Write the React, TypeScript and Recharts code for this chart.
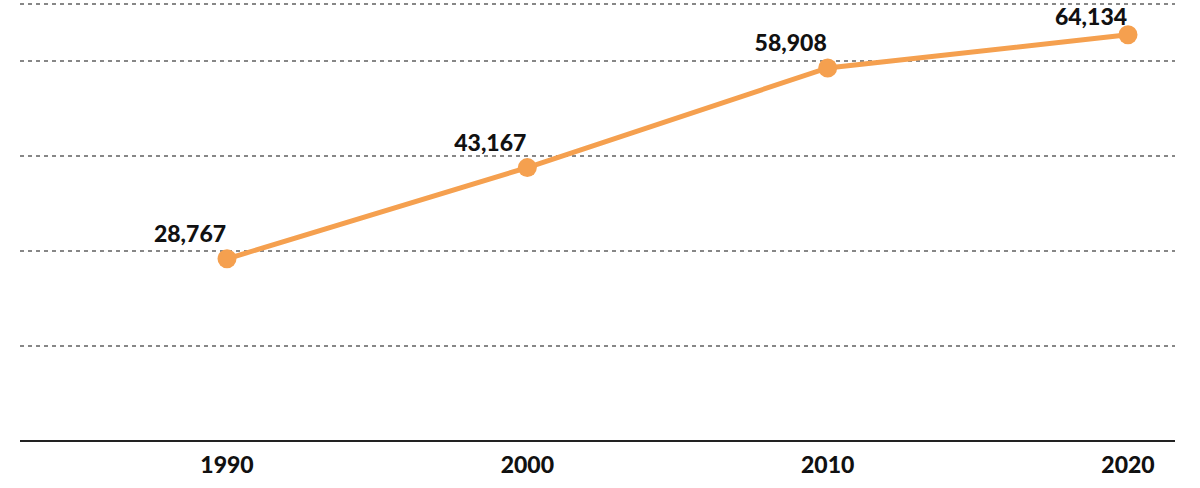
import React from 'react';
import { LineChart, Line, XAxis, YAxis, CartesianGrid, LabelList } from 'recharts';

const years = ['1990', '2000', '2010', '2020'];
const population = [28767, 43167, 58908, 64134];
const gridTicks = [15000, 30000, 45000, 60000];

const data = years.map((year, i) => ({ year, value: population[i] }));

const ORANGE = '#F5A04F';
const FONT = 'Lato, "Open Sans", sans-serif';

const ValueLabel = (props: any) => {
  const { x, y, value } = props;
  // keep the top label inside the picture
  const ty = Math.max(y - 17, 25);
  return (
    <text
      x={x - 37}
      y={ty}
      textAnchor="middle"
      fontFamily={FONT}
      fontWeight={900}
      fontSize={23}
      fill="#111"
    >
      {Number(value).toLocaleString('en-US')}
    </text>
  );
};

export default function App() {
  return (
    <div style={{ position: 'absolute', left: 0, top: 0, width: 1200, height: 488, background: '#fff' }}>
      <LineChart width={1200} height={488} data={data} margin={{ top: 4, right: 25, bottom: 7, left: 20 }}>
        <CartesianGrid horizontal vertical={false} stroke="#111" strokeDasharray="4 4" strokeWidth={1.2} />
        <XAxis
          dataKey="year"
          padding={{ left: 207, right: 47 }}
          axisLine={{ stroke: '#222', strokeWidth: 2 }}
          tickLine={false}
          tickMargin={10}
          height={40}
          tick={{ fill: '#111', fontFamily: FONT, fontWeight: 900, fontSize: 23 }}
        />
        <YAxis hide domain={[0, 69000]} ticks={gridTicks} allowDataOverflow />
        <Line
          type="linear"
          dataKey="value"
          stroke={ORANGE}
          strokeWidth={5}
          dot={{ r: 9.5, fill: ORANGE, stroke: 'none' }}
          activeDot={false}
          isAnimationActive={false}
        >
          <LabelList dataKey="value" content={ValueLabel} />
        </Line>
      </LineChart>
    </div>
  );
}
